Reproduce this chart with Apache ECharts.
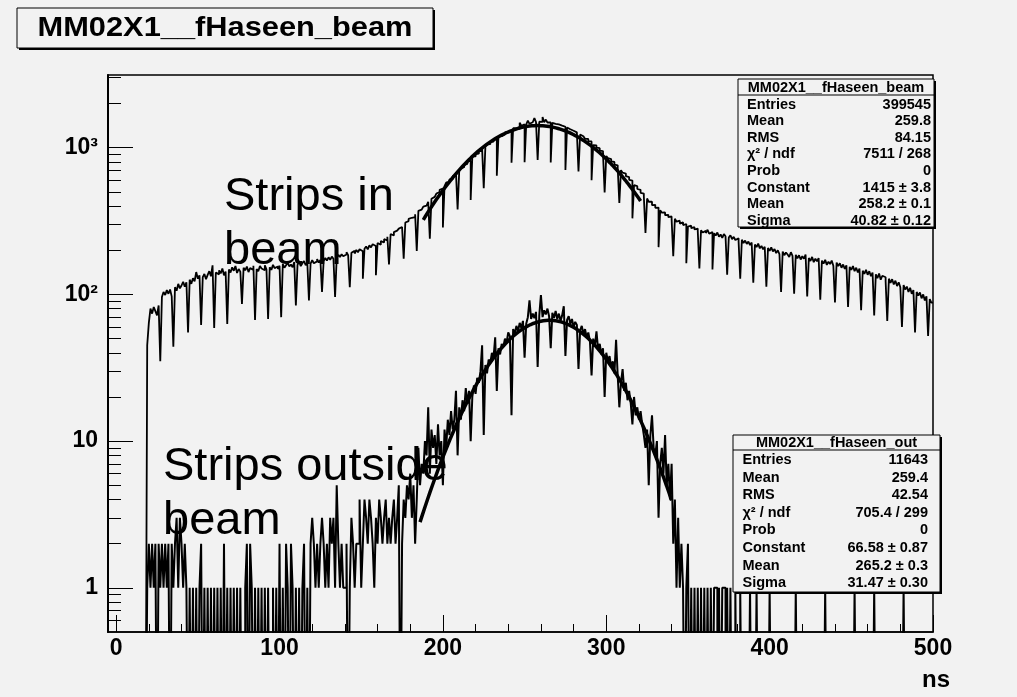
<!DOCTYPE html>
<html>
<head>
<meta charset="utf-8">
<script src="https://cdn.jsdelivr.net/npm/echarts@6/dist/echarts.min.js"></script>
<style>
  html, body { margin: 0; padding: 0; background: #f2f2f2; }
  #chart { width: 1017px; height: 697px; }
</style>
</head>
<body>
<div id="chart"></div>
<script>
// ---- axis ticks and labels ----
const xTickValues = [0, 100, 200, 300, 400, 500];
const xMinorTickValues = [20, 40, 60, 80, 120, 140, 160, 180, 220, 240, 260, 280, 320, 340, 360, 380, 420, 440, 460, 480];
const yTickValues = [1, 10, 100, 1000];
const yTickLabels = ['1', '10', '10²', '10³'];
const yMinorTickValues = [0.6, 0.7, 0.8, 0.9, 2, 3, 4, 5, 6, 7, 8, 9, 20, 30, 40, 50, 60, 70, 80, 90,
  200, 300, 400, 500, 600, 700, 800, 900, 2000, 3000];

// ---- histogram binning (1 ns bins, low edge of first bin at 0 ns) ----
const binStart = 0;
const binWidth = 1;

// counts per bin, strips in beam
const beamCounts = [
  0, 0, 0, 0, 0, 0, 0, 0, 0, 0,
  0, 0, 0, 0, 0, 0, 0, 0, 0, 45,
  64, 80, 74, 82, 77, 72, 84, 35, 96, 104,
  99, 107, 101, 108, 97, 44, 112, 106, 118, 110,
  115, 122, 113, 121, 55, 126, 118, 129, 123, 142,
  128, 135, 62, 131, 138, 127, 136, 144, 133, 158,
  59, 141, 137, 146, 139, 150, 135, 143, 63, 148,
  141, 153, 145, 156, 140, 149, 143, 86, 152, 146,
  155, 142, 151, 147, 157, 67, 149, 144, 156, 150,
  146, 158, 148, 68, 153, 147, 159, 151, 155, 149,
  157, 70, 161, 152, 158, 164, 155, 160, 153, 166,
  84, 159, 167, 156, 163, 169, 158, 165, 91, 162,
  171, 163, 168, 174, 165, 172, 104, 169, 177, 170,
  179, 172, 181, 175, 96, 178, 186, 180, 188, 182,
  187, 194, 185, 112, 192, 198, 190, 201, 194, 203,
  197, 128, 205, 212, 203, 216, 209, 220, 214, 135,
  224, 218, 231, 226, 238, 233, 247, 160, 258, 252,
  266, 272, 264, 281, 288, 296, 175, 309, 316, 327,
  333, 341, 336, 352, 198, 371, 378, 390, 397, 403,
  411, 428, 240, 449, 462, 471, 487, 498, 516, 527,
  286, 548, 579, 580, 608, 609, 641, 644, 676, 380,
  697, 724, 737, 764, 776, 803, 816, 440, 868, 872,
  906, 911, 948, 952, 990, 530, 1017, 1053, 1057, 1094,
  1099, 1136, 1137, 645, 1195, 1199, 1236, 1233, 1275, 1271,
  1310, 1304, 790, 1358, 1355, 1392, 1384, 1480, 1412, 1441,
  795, 1444, 1530, 1455, 1491, 1481, 1590, 1494, 826, 1503,
  1499, 1620, 1491, 1555, 1485, 1486, 792, 1477, 1454, 1459,
  1440, 1438, 1414, 1411, 1389, 705, 1373, 1336, 1337, 1305,
  1309, 1272, 1269, 690, 1228, 1196, 1188, 1151, 1147, 1108,
  1103, 600, 1043, 1037, 1000, 993, 955, 949, 911, 495,
  878, 850, 836, 806, 799, 768, 758, 729, 420, 703,
  675, 666, 640, 631, 604, 597, 330, 555, 547, 523,
  516, 493, 487, 465, 262, 451, 428, 428, 406, 408,
  389, 391, 210, 374, 361, 362, 347, 349, 336, 340,
  326, 182, 328, 313, 318, 304, 310, 297, 302, 163,
  290, 294, 283, 287, 277, 281, 271, 150, 274, 264,
  271, 262, 276, 259, 266, 148, 261, 252, 264, 247,
  256, 243, 258, 249, 136, 244, 253, 238, 247, 235,
  241, 229, 128, 236, 224, 233, 221, 229, 217, 226,
  120, 219, 210, 222, 206, 214, 203, 211, 113, 207,
  198, 209, 196, 204, 191, 200, 188, 104, 196, 185,
  193, 187, 180, 194, 183, 101, 186, 176, 185, 173,
  182, 175, 187, 97, 177, 169, 180, 166, 175, 168,
  177, 92, 170, 162, 172, 159, 167, 161, 170, 157,
  88, 165, 156, 163, 152, 160, 149, 158, 82, 154,
  147, 156, 144, 152, 141, 150, 78, 145, 138, 147,
  136, 144, 133, 141, 72, 137, 129, 139, 126, 134,
  131, 123, 66, 128, 120, 127, 117, 124, 114, 121,
  112, 60, 116, 108, 113, 104, 111, 101, 107, 55,
  104, 98, 103, 94, 100, 91, 97, 52, 93, 88
];

// counts per bin, strips outside the beam
const outsideCounts = [
  0, 0, 0, 0, 0, 0, 0, 0, 0, 0,
  0, 0, 0, 0, 0, 0, 0, 0, 0, 1,
  2, 1, 2, 1, 2, 0, 2, 1, 2, 1,
  2, 1, 2, 0, 2, 1, 2, 3, 1, 3,
  2, 1, 2, 1, 0, 1, 0, 1, 0, 1,
  0, 1, 2, 0, 1, 0, 1, 0, 1, 0,
  1, 0, 1, 0, 1, 0, 2, 0, 1, 0,
  1, 0, 1, 0, 1, 0, 1, 0, 0, 1,
  2, 0, 2, 1, 0, 1, 0, 1, 0, 1,
  0, 1, 0, 1, 0, 0, 1, 0, 1, 0,
  2, 0, 1, 0, 2, 1, 0, 2, 1, 0,
  1, 0, 1, 0, 1, 2, 0, 1, 0, 2,
  3, 2, 1, 2, 1, 2, 3, 2, 1, 2,
  1, 3, 2, 3, 1, 5, 2, 1, 2, 1,
  1, 2, 0, 1, 3, 2, 1, 2, 2, 4,
  1, 2, 4, 3, 2, 4, 3, 2, 1, 3,
  2, 4, 3, 2, 3, 4, 2, 3, 2, 3,
  4, 2, 3, 5, 0, 2, 4, 3, 5, 4,
  6, 3, 5, 2, 4, 9, 5, 7, 6, 10,
  8, 17, 6, 12, 9, 11, 7, 13, 8, 10,
  5, 12, 9, 14, 11, 16, 12, 14, 22, 8,
  17, 14, 19, 16, 23, 18, 22, 10, 20, 24,
  21, 27, 25, 30, 45, 11, 33, 29, 36, 34,
  40, 37, 51, 22, 43, 39, 46, 44, 50, 47,
  55, 52, 15, 58, 54, 61, 56, 64, 59, 66,
  37, 63, 70, 91, 68, 74, 69, 76, 32, 72,
  99, 70, 78, 73, 80, 71, 43, 75, 69, 77,
  68, 74, 66, 72, 83, 38, 67, 71, 63, 68,
  60, 65, 62, 31, 57, 61, 54, 58, 51, 55,
  48, 28, 50, 44, 56, 42, 46, 39, 43, 20,
  40, 35, 38, 32, 35, 29, 49, 28, 17, 25,
  31, 22, 25, 19, 22, 18, 13, 20, 15, 17,
  14, 16, 13, 11, 9, 12, 5, 11, 15, 9,
  8, 10, 3, 7, 9, 6, 11, 5, 7, 4,
  7, 2, 4, 1, 3, 1, 2, 1, 0, 1,
  2, 0, 1, 0, 1, 0, 1, 0, 1, 0,
  1, 0, 1, 0, 1, 0, 1, 1, 0, 1,
  0, 1, 1, 0, 1, 0, 1, 0, 0, 1,
  0, 0, 1, 0, 0, 0, 0, 0, 1, 0,
  0, 0, 1, 0, 0, 0, 0, 0, 0, 0,
  1, 0, 0, 0, 0, 0, 0, 0, 0, 0,
  0, 0, 0, 0, 0, 0, 1, 0, 0, 0,
  0, 0, 0, 0, 0, 0, 0, 0, 0, 0,
  0, 0, 0, 0, 1, 0, 0, 0, 0, 0,
  0, 0, 0, 0, 0, 0, 0, 0, 0, 0,
  0, 0, 1, 0, 0, 0, 0, 0, 0, 0,
  0, 0, 0, 0, 1, 0, 0, 0, 0, 0,
  0, 0, 0, 0, 0, 0, 0, 0, 0, 0,
  0, 0, 1, 0, 0, 0, 0, 0, 0, 0,
  0, 0, 0, 0, 0, 0, 0, 0, 0, 0
];

// ---- Gaussian fits: [constant, mean, sigma] and fitted range in ns ----
const beamFitParams = [1415, 258.2, 40.82];
const beamFitRange = [188, 321];
const outFitParams = [66.58, 265.2, 31.47];
const outFitRange = [186, 340];

// ---- statistics boxes ----
const beamStatsTitle = 'MM02X1__fHaseen_beam';
const beamStatsLabels = ['Entries', 'Mean', 'RMS', 'χ² / ndf', 'Prob', 'Constant', 'Mean', 'Sigma'];
const beamStatsValues = ['399545', '259.8', '84.15', '7511 / 268', '0', '1415 ± 3.8', '258.2 ± 0.1', '40.82 ± 0.12'];
const outStatsTitle = 'MM02X1__fHaseen_out';
const outStatsLabels = ['Entries', 'Mean', 'RMS', 'χ² / ndf', 'Prob', 'Constant', 'Mean', 'Sigma'];
const outStatsValues = ['11643', '259.4', '42.54', '705.4 / 299', '0', '66.58 ± 0.87', '265.2 ± 0.3', '31.47 ± 0.30'];

const histTitle = 'MM02X1__fHaseen_beam';
const xAxisTitle = 'ns';

// ---- drawing ----
const BG = '#f2f2f2';
const FONT = '"Liberation Sans", Arial, Helvetica, sans-serif';
const X_MIN = -5, X_MAX = 500;
const Y_MIN = 0.5, Y_MAX = 3130;
// empty bins fall below the log axis floor and get clipped at the frame
const EMPTY_FLOOR = 0.05;

function histogramSteps(counts) {
  const pts = counts.map((c, i) => [binStart + i * binWidth, c > 0 ? c : EMPTY_FLOOR]);
  pts.push([binStart + counts.length * binWidth, pts[pts.length - 1][1]]);
  return pts;
}

function gaussianCurve(params, range) {
  const [c, m, s] = params;
  const n = 100;
  const pts = [];
  for (let k = 0; k <= n; k++) {
    const x = range[0] + (range[1] - range[0]) * k / n;
    pts.push([x, c * Math.exp(-0.5 * Math.pow((x - m) / s, 2))]);
  }
  return pts;
}

function pave(x, y, w, h, shadow) {
  return [
    { type: 'rect', z: 100, silent: true, shape: { x: x + shadow, y: y + shadow, width: w, height: h }, style: { fill: '#000' } },
    { type: 'rect', z: 101, silent: true, shape: { x: x, y: y, width: w, height: h }, style: { fill: BG, stroke: '#000', lineWidth: 1 } }
  ];
}

function label(x, y, text, font, align, extra) {
  return Object.assign({
    type: 'text', z: 110, silent: true, x: x, y: y,
    style: { text: text, font: font, fill: '#000', textAlign: align, align: align, textVerticalAlign: 'middle', verticalAlign: 'middle' }
  }, extra || {});
}

function statsBox(box, title, labels, values) {
  const els = pave(box.x, box.y, box.w, box.h, 2);
  els.push({ type: 'line', z: 102, silent: true, shape: { x1: box.x, y1: box.sep, x2: box.x + box.w, y2: box.sep }, style: { stroke: '#000', lineWidth: 1 } });
  const font = 'bold ' + box.font + 'px ' + FONT;
  els.push(label(box.x + box.w / 2, (box.y + box.sep) / 2 + 0.5, title, font, 'center'));
  labels.forEach((t, i) => {
    const yy = box.row0 + i * box.step;
    els.push(label(box.labelX, yy, t, font, 'left'));
    els.push(label(box.valueX, yy, values[i], font, 'right'));
  });
  return els;
}

const graphics = [].concat(
  pave(17, 8, 416, 40, 2),
  [label(225, 28.5, histTitle, 'bold 28px ' + FONT, 'center', { scaleX: 1.1 })],
  statsBox({ x: 738, y: 79, w: 196, h: 148, sep: 95, row0: 104.5, step: 16.6, labelX: 747, valueX: 931, font: 14.5 },
    beamStatsTitle, beamStatsLabels, beamStatsValues),
  statsBox({ x: 733, y: 435, w: 207, h: 157, sep: 450, row0: 460, step: 17.6, labelX: 742.5, valueX: 928, font: 14.5 },
    outStatsTitle, outStatsLabels, outStatsValues),
  [
    label(224, 197, 'Strips in', '47px ' + FONT, 'left'),
    label(224, 251, 'beam', '47px ' + FONT, 'left'),
    label(163, 467, 'Strips outside', '47px ' + FONT, 'left'),
    label(163, 521, 'beam', '47px ' + FONT, 'left'),
    label(950, 680, xAxisTitle, 'bold 24px ' + FONT, 'right')
  ]
);

const chart = echarts.init(document.getElementById('chart'), null, { renderer: 'canvas' });

chart.setOption({
  animation: false,
  backgroundColor: BG,
  grid: {
    left: 108, top: 75, width: 825, height: 557,
    show: true, borderColor: '#000', borderWidth: 1.5, backgroundColor: 'transparent',
    containLabel: false, outerBoundsMode: 'none'
  },
  xAxis: [
    {
      type: 'value', min: X_MIN, max: X_MAX, position: 'bottom',
      axisLine: { show: true, onZero: false, lineStyle: { color: '#000', width: 1.5 } },
      axisTick: { show: true, inside: true, length: 17, customValues: xTickValues, lineStyle: { color: '#000', width: 1 } },
      axisLabel: { show: true, customValues: xTickValues, margin: 5, color: '#000', fontFamily: FONT, fontWeight: 'bold', fontSize: 23 },
      splitLine: { show: false }
    },
    {
      type: 'value', min: X_MIN, max: X_MAX, position: 'bottom', offset: 0,
      axisLine: { show: false, onZero: false },
      axisTick: { show: true, inside: true, length: 8, customValues: xMinorTickValues, lineStyle: { color: '#000', width: 1 } },
      axisLabel: { show: false },
      splitLine: { show: false }
    }
  ],
  yAxis: [
    {
      type: 'log', logBase: 10, min: Y_MIN, max: Y_MAX, position: 'left',
      axisLine: { show: true, onZero: false, lineStyle: { color: '#000', width: 2 } },
      axisTick: { show: true, inside: true, length: 25, lineStyle: { color: '#000', width: 1 } },
      axisLabel: {
        show: true, margin: 10, color: '#000', fontFamily: FONT, fontWeight: 'bold', fontSize: 23,
        showMinLabel: false, showMaxLabel: false,
        formatter: function (v) {
          for (let i = 0; i < yTickValues.length; i++) {
            if (Math.abs(v - yTickValues[i]) < 1e-6 * yTickValues[i]) return yTickLabels[i];
          }
          return '';
        }
      },
      splitLine: { show: false }
    },
    {
      type: 'log', logBase: 10, min: Y_MIN, max: Y_MAX, position: 'left', offset: 0,
      axisLine: { show: false, onZero: false },
      axisTick: { show: true, inside: true, length: 13, customValues: yMinorTickValues, lineStyle: { color: '#000', width: 1 } },
      axisLabel: { show: false },
      splitLine: { show: false }
    }
  ],
  series: [
    {
      name: 'outside', type: 'line', xAxisIndex: 0, yAxisIndex: 0, step: 'end',
      data: histogramSteps(outsideCounts), showSymbol: false, symbol: 'none', clip: true,
      lineStyle: { color: '#000', width: 2 }, z: 2, silent: true
    },
    {
      name: 'beam', type: 'line', xAxisIndex: 0, yAxisIndex: 0, step: 'end',
      data: histogramSteps(beamCounts), showSymbol: false, symbol: 'none', clip: true,
      lineStyle: { color: '#000', width: 1.8 }, z: 3, silent: true
    },
    {
      name: 'outside fit', type: 'line', xAxisIndex: 0, yAxisIndex: 0,
      data: gaussianCurve(outFitParams, outFitRange), showSymbol: false, symbol: 'none', clip: true,
      lineStyle: { color: '#000', width: 3.5 }, z: 4, silent: true
    },
    {
      name: 'beam fit', type: 'line', xAxisIndex: 0, yAxisIndex: 0,
      data: gaussianCurve(beamFitParams, beamFitRange), showSymbol: false, symbol: 'none', clip: true,
      lineStyle: { color: '#000', width: 3.5 }, z: 4, silent: true
    }
  ],
  graphic: { elements: graphics }
});
</script>
</body>
</html>
